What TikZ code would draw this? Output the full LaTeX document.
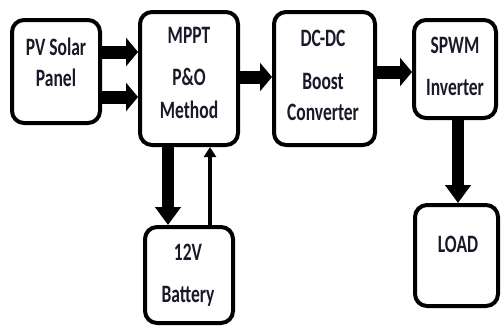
\documentclass[tikz,border=0pt]{standalone}
\usepackage{fontspec}
\setmainfont{Carlito}[FakeStretch=0.7]
\usetikzlibrary{arrows.meta}
\definecolor{txt}{rgb}{0.1,0.1,0.16}
\begin{document}
\begin{tikzpicture}[x=1pt,y=-1pt,
  box/.style={draw=black, line width=4pt, rounded corners=12pt, inner sep=0pt},
  lbl/.style={text=txt, font=\fontsize{25}{25}\selectfont\bfseries, inner sep=0pt, text height=0.63em, text depth=0pt, anchor=center},
  bigarrow/.style={line width=13pt, -{Triangle[width=28pt,length=12pt]}},
  midarrow/.style={line width=12pt, -{Triangle[width=25pt,length=18pt]}},
  thinarrow/.style={line width=4pt, -{Triangle[width=12pt,length=10pt]}}]
\useasboundingbox (0,0) rectangle (502,327);
\fill[white] (0,0) rectangle (502,327);
% boxes
\node[box, minimum width=88pt, minimum height=103pt] (pv) at (56,71.5) {};
\node[box, minimum width=98pt, minimum height=133pt] (mppt) at (189,78.5) {};
\node[box, minimum width=101pt, minimum height=133pt] (dc) at (324.5,78.5) {};
\node[box, minimum width=82pt, minimum height=98pt] (spwm) at (455,69) {};
\node[box, minimum width=88pt, minimum height=96pt] (bat) at (189,275) {};
\node[box, minimum width=83pt, minimum height=101pt] (load) at (456.5,255.5) {};
% labels
\node[lbl] (t1) at (56,52) {PV Solar};
\node[lbl] (t2) at (56,83) {Panel};
\node[lbl] (t3) at (189,40) {MPPT};
\node[lbl] (t4) at (189,82) {P\&O};
\node[lbl] (t5) at (189,115) {Method};
\node[lbl] (t6) at (323,43) {DC-DC};
\node[lbl] (t7) at (323,86) {Boost};
\node[lbl] (t8) at (323,117) {Converter};
\node[lbl] (t9) at (455,50) {SPWM};
\node[lbl] (t10) at (455,92) {Inverter};
\node[lbl] (t11) at (188,257) {12V};
\node[lbl] (t12) at (188,299) {Battery};
\node[lbl] (t13) at (458,249) {LOAD};
% connectors
\draw[bigarrow] (pv.east |- 0,52) -- (mppt.west |- 0,52);
\draw[bigarrow] (pv.east |- 0,97) -- (mppt.west |- 0,97);
\draw[bigarrow] (mppt.east |- 0,77) -- (dc.west |- 0,77);
\draw[bigarrow] (dc.east |- 0,72) -- (spwm.west |- 0,72);
\draw[midarrow] (mppt.south -| 168,0) -- (bat.north -| 168,0);
\draw[thinarrow] (bat.north -| 210,0) -- (mppt.south -| 210,0);
\draw[midarrow] (spwm.south -| 458,0) -- (load.north -| 458,0);
\end{tikzpicture}
\end{document}
